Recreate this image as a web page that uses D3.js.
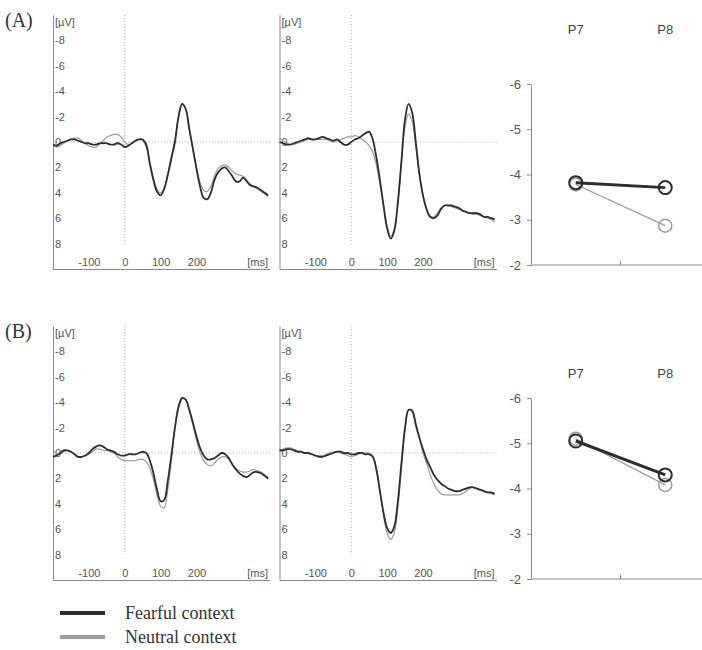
<!DOCTYPE html>
<html>
<head>
<meta charset="utf-8">
<script src="https://cdn.jsdelivr.net/npm/d3@7"></script>
<style>
  body { margin: 0; background: #fff; }
  text { font-family: "Liberation Sans", Arial, sans-serif; }
  .serif { font-family: "Liberation Serif", "Times New Roman", serif; }
</style>
</head>
<body>
<div id="chart"></div>
<script>
// sample times (ms)
const times = [-200,-190,-180,-170,-160,-150,-140,-130,-120,-110,
               -100,-90,-80,-70,-60,-50,-40,-30,-20,-10,
               0,10,20,30,40,50,60,70,80,90,
               100,110,120,130,140,150,160,170,180,190,
               200,210,220,230,240,250,260,270,280,290,
               300,310,320,330,340,350,360,370,380,390,
               400];

// (A) left waveform
const aLeftFear = [0.2,0.3,0.1,0,-0.1,-0.2,-0.2,-0.1,0,0.1,
                   0.1,0.2,0.2,0.1,0.1,0.1,0.2,0.2,0.1,0.2,
                   0.4,0.3,0.1,-0.1,-0.2,-0.2,0.2,1.7,3.0,3.9,
                   4.2,3.7,2.6,1.3,0,-2.0,-3.0,-2.6,-1.0,0.5,
                   2.1,3.5,4.4,4.5,4.0,3.0,2.4,2.1,2.0,2.3,
                   2.7,3.1,3.1,2.8,3.1,3.4,3.5,3.6,3.8,4.0,
                   4.2];
const aLeftNeut = [0.3,0.4,0.3,0.1,-0.1,-0.2,-0.3,-0.3,-0.1,0.1,
                   0.3,0.4,0.4,0.2,-0.1,-0.4,-0.5,-0.6,-0.6,-0.4,
                   0,0.2,0.1,-0.1,-0.2,-0.1,0.4,1.6,2.8,3.7,
                   4.0,3.6,2.5,1.1,-0.2,-2.0,-3.0,-2.6,-1.1,0.6,
                   2.0,3.2,3.8,3.9,3.5,2.7,2.1,1.9,1.8,2.0,
                   2.3,2.5,2.6,2.7,3.0,3.3,3.5,3.7,3.9,4.1,
                   4.3];
// (A) right waveform
const aRightFear = [0,0.1,0.2,0.2,0.1,0,-0.1,-0.2,-0.3,-0.2,
                    -0.2,-0.3,-0.4,-0.3,-0.2,-0.1,-0.2,0,0.2,0.2,
                    0,-0.2,-0.3,-0.5,-0.7,-0.8,-0.2,1.2,3.0,5.0,
                    6.8,7.6,7.0,4.8,1.5,-1.8,-3.0,-2.3,0,2.5,
                    4.2,5.3,5.9,6.0,5.8,5.3,5.0,5.0,5.0,5.1,
                    5.2,5.4,5.5,5.6,5.6,5.6,5.7,5.9,5.9,6.0,
                    6.1];
const aRightNeut = [-0.3,-0.1,0.1,0.2,0.2,0.1,0,-0.1,-0.2,-0.2,
                    -0.2,-0.2,-0.2,-0.2,-0.1,0,-0.1,-0.2,-0.3,-0.4,
                    -0.4,-0.5,-0.4,-0.2,0,0.3,0.8,1.8,3.3,5.0,
                    6.6,7.4,6.8,4.6,1.6,-1.2,-2.2,-1.6,0.4,2.6,
                    4.2,5.2,5.8,5.9,5.6,5.2,5.0,5.0,5.1,5.2,
                    5.3,5.4,5.5,5.6,5.7,5.7,5.8,5.9,6.0,6.1,
                    6.3];
// (B) left waveform
const bLeftFear = [0.3,0.2,0,-0.2,-0.2,-0.1,0.1,0.3,0.3,0.2,
                   0,-0.3,-0.5,-0.6,-0.5,-0.3,-0.2,-0.1,0.1,0.2,
                   0.2,0.1,0.1,0.1,0,-0.1,0,0.6,1.6,2.9,
                   3.8,3.7,2.2,0.2,-2.0,-3.6,-4.3,-4.2,-3.4,-2.4,
                   -1.3,-0.4,0.2,0.5,0.5,0.4,0.2,0,0.1,0.4,
                   0.9,1.3,1.6,1.8,1.9,1.7,1.5,1.5,1.6,1.8,
                   2.0];
const bLeftNeut = [-0.2,0,0.1,-0.1,-0.2,-0.1,0.1,0.3,0.3,0.2,
                   0.1,-0.1,-0.3,-0.3,-0.2,-0.2,-0.1,0,0.3,0.5,
                   0.6,0.6,0.6,0.6,0.5,0.5,0.7,1.2,2.1,3.3,
                   4.2,4.3,2.9,0.6,-2.0,-3.8,-4.4,-4.2,-3.3,-2.2,
                   -1.0,0,0.6,0.9,1.0,0.8,0.5,0.3,0.3,0.5,
                   0.9,1.2,1.4,1.5,1.5,1.4,1.3,1.4,1.5,1.7,
                   1.9];
// (B) right waveform
const bRightFear = [-0.2,-0.2,-0.3,-0.3,-0.2,-0.1,-0.1,0,0,0.1,
                    0.2,0.3,0.3,0.2,0.1,0,-0.1,-0.1,0,0,
                    0.1,0.1,0,0,0.1,0.1,0.3,1.3,3.0,4.7,
                    5.9,6.3,5.8,3.8,0.8,-2.0,-3.4,-3.3,-2.2,-1.2,
                    -0.3,0.5,1.1,1.7,2.1,2.4,2.6,2.8,2.9,3.0,
                    3.0,2.9,2.8,2.7,2.7,2.8,2.9,3.0,3.1,3.1,
                    3.2];
const bRightNeut = [-0.3,-0.3,-0.4,-0.4,-0.3,-0.2,-0.1,0,0,0.1,
                    0.2,0.2,0.2,0.1,0,-0.1,-0.1,0,0.1,0.2,
                    0.3,0.2,0.1,0,0,0,0.2,1.2,3.0,4.9,
                    6.3,6.8,6.3,4.3,1.2,-1.8,-3.4,-3.4,-2.4,-1.2,
                    0,0.8,1.7,2.4,2.9,3.2,3.3,3.3,3.3,3.3,
                    3.3,3.2,3.0,2.8,2.7,2.8,2.9,3.0,3.1,3.2,
                    3.3];

// mean amplitudes
const electrodes = ['P7', 'P8'];
const aMeanFear = [-3.82, -3.71];
const aMeanNeut = [-3.78, -2.87];
const bMeanFear = [-5.05, -4.30];
const bMeanNeut = [-5.10, -4.08];

const wYTicks = [-8, -6, -4, -2, 0, 2, 4, 6, 8];
const wXTicks = [-100, 0, 100, 200];
const mYTicks = [-6, -5, -4, -3, -2];
const legendLabels = ['Fearful context', 'Neutral context'];

const dark = '#2e2e2e', grey = '#9c9c9c', axisCol = '#8a8a8a', txtCol = '#555';

const width = 702, height = 650;
const svg = d3.select('#chart').append('svg')
    .attr('width', width)
    .attr('height', height);

function drawWave(x0, yTop, fear, neut) {
    const xs = d3.scaleLinear().domain([-200, 405]).range([x0, x0 + 217]);
    const ys = d3.scaleLinear().domain([-10, 10]).range([yTop, yTop + 254]);
    const g = svg.append('g');

    // dotted zero lines
    g.append('line')
        .attr('x1', xs(-200)).attr('x2', xs(405))
        .attr('y1', ys(0)).attr('y2', ys(0))
        .style('stroke', '#aaa').style('stroke-width', 1)
        .style('stroke-dasharray', '1,2');
    g.append('line')
        .attr('x1', xs(0)).attr('x2', xs(0))
        .attr('y1', ys(-10)).attr('y2', ys(8))
        .style('stroke', '#aaa').style('stroke-width', 1)
        .style('stroke-dasharray', '1,2');

    const yAxis = d3.axisRight(ys).tickValues(wYTicks).tickSize(0).tickPadding(2)
        .tickSizeOuter(0).tickFormat(d => String(d));
    const ya = g.append('g').attr('transform', 'translate(' + x0 + ',0)').call(yAxis);

    const xAxis = d3.axisTop(xs).tickValues(wXTicks).tickSize(0).tickPadding(3)
        .tickSizeOuter(0).tickFormat(d => String(d));
    const xa = g.append('g').attr('transform', 'translate(0,' + ys(10) + ')').call(xAxis);

    [ya, xa].forEach(a => {
        a.select('.domain').style('stroke', axisCol);
        a.selectAll('text').style('fill', txtCol).style('font-size', '11px');
    });

    g.append('text').attr('x', x0 + 2).attr('y', yTop + 11)
        .style('font-size', '11px').style('fill', txtCol).text('[µV]');
    g.append('text').attr('x', x0 + 215).attr('y', ys(10) - 3)
        .style('font-size', '11px').style('fill', txtCol)
        .style('text-anchor', 'end').text('[ms]');

    const line = d3.line()
        .x((d, i) => xs(times[i]))
        .y(d => ys(d))
        .curve(d3.curveCatmullRom.alpha(0.5));

    g.append('path').datum(neut).attr('d', line)
        .style('fill', 'none').style('stroke', grey).style('stroke-width', 1.2);
    g.append('path').datum(fear).attr('d', line)
        .style('fill', 'none').style('stroke', dark).style('stroke-width', 1.8);
}

function drawMeans(yTop, labelY, fear, neut) {
    const xs = d3.scalePoint().domain(electrodes).range([531, 710]).padding(0.5);
    const ys = d3.scaleLinear().domain([-6, -2]).range([yTop, yTop + 181]);
    const g = svg.append('g');

    const yAxis = d3.axisLeft(ys).tickValues(mYTicks).tickSize(4).tickPadding(6)
        .tickSizeOuter(0).tickFormat(d => String(d));
    const ya = g.append('g').attr('transform', 'translate(531,0)').call(yAxis);
    ya.select('.domain').style('stroke', axisCol);
    ya.selectAll('line').style('stroke', axisCol);
    ya.selectAll('text').style('fill', txtCol).style('font-size', '13px');

    // bottom axis with a single middle tick
    g.append('line').attr('x1', 531).attr('x2', 710)
        .attr('y1', ys(-2)).attr('y2', ys(-2)).style('stroke', axisCol);
    const mid = (xs('P7') + xs('P8')) / 2;
    g.append('line').attr('x1', mid).attr('x2', mid)
        .attr('y1', ys(-2)).attr('y2', ys(-2) - 4).style('stroke', axisCol);

    g.selectAll('.elab').data(electrodes).enter().append('text')
        .attr('x', d => xs(d)).attr('y', labelY)
        .style('text-anchor', 'middle').style('font-size', '13px')
        .style('fill', '#444').text(d => d);

    const line = d3.line().x((d, i) => xs(electrodes[i])).y(d => ys(d));
    [[neut, grey, 1.2, 1.5], [fear, dark, 3, 2]].forEach(([vals, col, lw, cw]) => {
        g.append('path').datum(vals).attr('d', line)
            .style('fill', 'none').style('stroke', col).style('stroke-width', lw);
        g.selectAll(null).data(vals).enter().append('circle')
            .attr('cx', (d, i) => xs(electrodes[i])).attr('cy', d => ys(d))
            .attr('r', 6.5)
            .style('fill', 'none').style('stroke', col).style('stroke-width', cw);
    });
}

drawWave(53, 15, aLeftFear, aLeftNeut);
drawWave(279.5, 15, aRightFear, aRightNeut);
drawMeans(84, 34, aMeanFear, aMeanNeut);

drawWave(53, 326, bLeftFear, bLeftNeut);
drawWave(279.5, 326, bRightFear, bRightNeut);
drawMeans(398, 378, bMeanFear, bMeanNeut);

svg.append('text').attr('class', 'serif').attr('x', 5).attr('y', 27)
    .style('font-size', '20px').style('fill', '#333').text('(A)');
svg.append('text').attr('class', 'serif').attr('x', 5).attr('y', 338)
    .style('font-size', '20px').style('fill', '#333').text('(B)');

// legend
const legCols = [dark, grey];
legendLabels.forEach((lab, i) => {
    const y = 613 + i * 24;
    svg.append('line').attr('x1', 60).attr('x2', 105).attr('y1', y).attr('y2', y)
        .style('stroke', legCols[i]).style('stroke-width', 4);
    svg.append('text').attr('class', 'serif').attr('x', 125).attr('y', y + 6)
        .style('font-size', '18px').style('fill', '#333').text(lab);
});
</script>
</body>
</html>
